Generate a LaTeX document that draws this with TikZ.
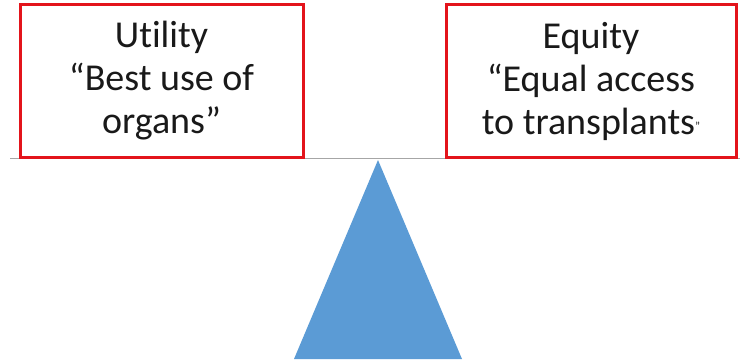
\documentclass[tikz,border=0pt]{standalone}
\usepackage{fontspec}
\setmainfont[Ligatures={TeX,NoCommon}]{Carlito}
\usepackage{xcolor}
\usepackage{tikz}

\definecolor{boxred}{HTML}{E3141B}
\definecolor{fulcrum}{HTML}{5B9BD5}
\definecolor{beamgray}{HTML}{A6A6A6}

\begin{document}
\begin{tikzpicture}[
  x=1pt, y=-1pt,
  font=\fontsize{38}{43}\selectfont,
  value/.style={draw=boxred, line width=3pt, fill=white, align=center,
    text=black!90, inner sep=0pt, minimum height=152pt},
  beam/.style={draw=beamgray, line width=1pt},
  pivot/.style={fill=fulcrum, draw=none}
]
\useasboundingbox (0,0) rectangle (740,361);
\draw[beam] (10,158) -- (740,158);
\node[value, minimum width=283pt] (utility) at (161.5,81)
  {Utility\\“Best use of\\organs”};
\node[value, minimum width=290pt] (equity) at (591,81)
  {Equity\\“Equal access\\to transplants\raisebox{4pt}{\fontsize{12}{12}\selectfont ”}};
\path[pivot] (378,160) -- (462,359) -- (294,359) -- cycle;
\end{tikzpicture}
\end{document}
